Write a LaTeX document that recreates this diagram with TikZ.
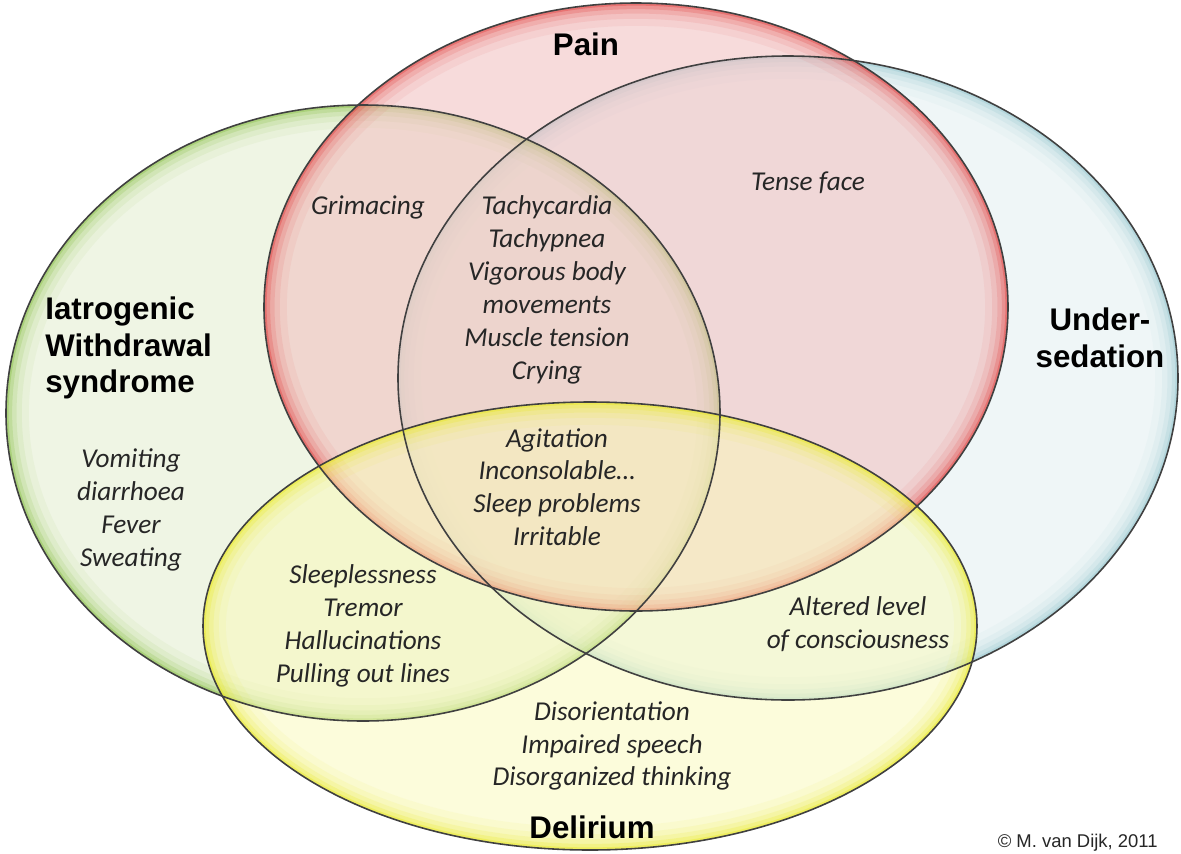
\documentclass[tikz,border=0pt]{standalone}
\usepackage{fontspec}
\setmainfont{Carlito}
\newfontfamily\headfont{Liberation Sans}
\usepackage{tikz}
\definecolor{painred}  {HTML}{E0302E}
\definecolor{sedblue}  {HTML}{8CC4CC}
\definecolor{iwsgreen} {HTML}{7DBB35}
\definecolor{delyellow}{HTML}{E8E80C}
\definecolor{painfill} {HTML}{F2BEBE}
\definecolor{sedfill}  {HTML}{E1EFF1}
\definecolor{iwsfill}  {HTML}{E0ECCA}
\definecolor{delfill}  {HTML}{FAFAB8}

\begin{document}
\begin{tikzpicture}[
    x=0.02cm, y=0.02cm,
    item/.style  = {font=\fontsize{15.5}{18.7}\selectfont\itshape,
                    align=center, text=black!85, inner sep=0pt},
    title/.style = {font=\headfont\fontsize{17.8}{21}\selectfont\bfseries,
                    align=center, inner sep=0pt},
    ring/.style  = {draw=black!75, line width=0.9pt}
  ]

  \fill[white] (0,0) rectangle (1181,-853);
  \useasboundingbox (0,0) rectangle (1181,-853);

  %% Sets: fill + inner glow
  \foreach \col/\fl/\op/\cx/\cy/\rx/\ry in {
      sedblue/sedfill/.5/788/378/390/322,
      iwsgreen/iwsfill/.5/363/413/357/308,
      painred/painfill/.55/636/307/372/304,
      delyellow/delfill/.5/590/626/387/224}{
    \begin{scope}
      \clip (\cx,-\cy) ellipse [x radius=\rx, y radius=\ry];
      \fill[\fl, opacity=\op] (\cx,-\cy) ellipse [x radius=\rx, y radius=\ry];
      \foreach \w/\o in {26/.06, 18/.09, 12/.13, 7/.2, 3/.32}
        \draw[\col, line width=\w pt, opacity=\o]
          (\cx,-\cy) ellipse [x radius=\rx, y radius=\ry];
    \end{scope}
  }

  %% Outlines
  \draw[ring] (788,-378) ellipse [x radius=390, y radius=322];
  \draw[ring] (363,-413) ellipse [x radius=357, y radius=308];
  \draw[ring] (636,-307) ellipse [x radius=372, y radius=304];
  \draw[ring] (590,-626) ellipse [x radius=387, y radius=224];

  %% Set names
  \node[title] (pain) at (586,-44) {Pain};
  \node[title] (sed)  at (1100,-338) {Under-\\sedation};
  \node[title, anchor=west, align=left] (iws) at (45,-348)
       {Iatrogenic\\Withdrawal\\syndrome};
  \node[title] (del)  at (592,-827) {Delirium};

  %% Symptoms
  \node[item] (grim)  at (368,-207) {Grimacing};
  \node[item] (tachy) at (547,-290)
       {Tachycardia\\Tachypnea\\Vigorous body\\movements\\Muscle tension\\Crying};
  \node[item] (tense) at (808,-183) {Tense face};
  \node[item] (agit)  at (557,-487)
       {Agitation\\Inconsolable…\\Sleep problems\\Irritable};
  \node[item] (vomit) at (131,-510)
       {Vomiting\\diarrhoea\\Fever\\Sweating};
  \node[item] (sleep) at (363,-626)
       {Sleeplessness\\Tremor\\Hallucinations\\Pulling out lines};
  \node[item] (alter) at (858,-624) {Altered level\\of consciousness};
  \node[item] (disor) at (612,-746)
       {Disorientation\\Impaired speech\\Disorganized thinking};

  \node[font=\headfont\fontsize{10.5}{12}\selectfont, anchor=east,
        inner sep=0pt, text=black!85] (copy) at (1158,-843) {© M. van Dijk, 2011};

\end{tikzpicture}
\end{document}
